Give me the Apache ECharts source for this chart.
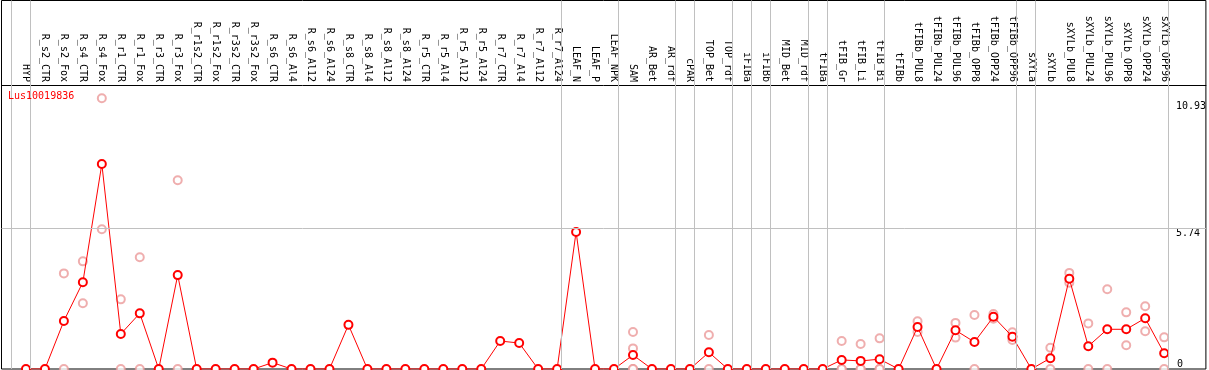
<!DOCTYPE html>
<html>
<head>
<meta charset="utf-8">
<script src="https://cdn.jsdelivr.net/npm/echarts@6/dist/echarts.min.js"></script>
<style>
  html, body { margin: 0; padding: 0; background: #fff; }
  #chart { width: 1209px; height: 370px; }
</style>
</head>
<body>
<div id="chart"></div>
<script>
const geneName = 'Lus10019836';

const categories = [
  'HYP', 'R_s2_CTR', 'R_s2_Fox', 'R_s4_CTR', 'R_s4_Fox', 'R_r1_CTR', 'R_r1_Fox', 'R_r3_CTR', 'R_r3_Fox',
  'R_r1s2_CTR', 'R_r1s2_Fox', 'R_r3s2_CTR', 'R_r3s2_Fox',
  'R_s6_CTR', 'R_s6_Al4', 'R_s6_Al12', 'R_s6_Al24', 'R_s8_CTR', 'R_s8_Al4', 'R_s8_Al12', 'R_s8_Al24',
  'R_r5_CTR', 'R_r5_Al4', 'R_r5_Al12', 'R_r5_Al24', 'R_r7_CTR', 'R_r7_Al4', 'R_r7_Al12', 'R_r7_Al24',
  'LEAF_N', 'LEAF_P', 'LEAF_NPK', 'SAM', 'AR_Bet', 'AR_rdf', 'cPAR', 'TOP_Bet', 'TOP_rdf',
  'iFIBa', 'iFIBb', 'MID_Bet', 'MID_rdf', 'tFIBa', 'tFIB_Gr', 'tFIB_Li', 'tFIB_Bi', 'tFIBb',
  'tFIBb_PUL8', 'tFIBb_PUL24', 'tFIBb_PUL96', 'tFIBb_OPP8', 'tFIBb_OPP24', 'tFIBb_OPP96',
  'sXYLa', 'sXYLb', 'sXYLb_PUL8', 'sXYLb_PUL24', 'sXYLb_PUL96', 'sXYLb_OPP8', 'sXYLb_OPP24', 'sXYLb_OPP96'
];

// mean expression per sample
const means = [
  0, 0, 1.96, 3.54, 8.36, 1.43, 2.27, 0, 3.83,
  0, 0, 0, 0,
  0.26, 0, 0, 0, 1.80, 0, 0, 0,
  0, 0, 0, 0, 1.14, 1.06, 0, 0,
  5.59, 0, 0, 0.57, 0, 0, 0, 0.68, 0,
  0, 0, 0, 0, 0, 0.37, 0.33, 0.40, 0,
  1.71, 0, 1.58, 1.10, 2.13, 1.32,
  0, 0.44, 3.68, 0.93, 1.62, 1.62, 2.07, 0.64
];

// single replicates per sample (index -> values)
const replicates = [
  [], [], [3.90, 0], [4.39, 2.68], [11.04, 5.70], [2.84, 0], [4.56, 0], [], [7.70, 0],
  [], [], [], [],
  [], [], [], [], [], [], [], [],
  [], [], [], [], [], [], [], [],
  [], [], [], [1.51, 0.84, 0, 0], [], [], [], [1.39, 0], [],
  [], [], [], [], [], [1.14, 0, 0], [1.02, 0, 0], [1.25, 0, 0], [],
  [1.95, 1.51], [], [1.88, 1.28], [2.20, 0], [2.24, 2.05], [1.50, 1.18],
  [], [0.87, 0], [3.92, 3.52], [1.86, 0], [3.25, 0], [2.31, 0.97], [2.56, 1.54], [1.29, 0]
];

// group separators (in sample index units)
const separators = [-0.78, 0.22, 28.22, 31.22, 34.22, 35.22, 37.22, 38.22, 39.22, 41.22, 42.22, 45.22, 52.22, 53.22, 60.22];
const yTickLabels = [5.74, 10.93];
const yZeroLabel = [0];

const font = 'DejaVu Sans Mono';
const chart = echarts.init(document.getElementById('chart'));

const repData = [];
replicates.forEach((vals, i) => vals.forEach(v => repData.push([i, v])));

chart.setOption({
  animation: false,
  title: {
    text: geneName,
    left: 8,
    top: 91,
    padding: 0,
    textStyle: { color: '#ff0000', fontFamily: font, fontSize: 10, fontWeight: 'normal' }
  },
  grid: {
    left: 1.5, right: 0.5, top: 0.5, bottom: 1,
    show: true, borderColor: '#000', borderWidth: 1
  },
  xAxis: {
    type: 'value',
    position: 'top',
    offset: -84.5,
    min: -1.289,
    max: 62.2,
    axisLine: { onZero: false, lineStyle: { color: '#000', width: 1 } },
    axisTick: { show: false },
    splitLine: { show: false },
    axisLabel: {
      customValues: categories.map((_, i) => i),
      formatter: v => categories[Math.round(v)] || '',
      rotate: 90,
      margin: 3,
      color: '#000',
      fontFamily: font,
      fontSize: 10
    }
  },
  yAxis: [
    {
      type: 'value',
      position: 'right',
      min: 0,
      max: 15.03,
      axisLine: { show: false, onZero: false },
      axisTick: { show: false },
      splitLine: { show: false },
      axisLabel: {
        customValues: yTickLabels,
        inside: true,
        align: 'left',
        verticalAlign: 'top',
        margin: 30,
        color: '#000',
        fontFamily: font,
        fontSize: 10
      }
    },
    {
      type: 'value',
      position: 'right',
      min: 0,
      max: 15.03,
      axisLine: { show: false, onZero: false },
      axisTick: { show: false },
      splitLine: { show: false },
      axisLabel: {
        customValues: yZeroLabel,
        inside: true,
        align: 'left',
        verticalAlign: 'bottom',
        margin: 29,
        color: '#000',
        fontFamily: font,
        fontSize: 10
      }
    }
  ],
  series: [
    {
      name: 'replicates',
      type: 'scatter',
      data: repData,
      symbol: 'emptyCircle',
      symbolSize: 8,
      itemStyle: { color: '#eb9a9a', borderWidth: 1.2 },
      z: 2,
      markLine: {
        silent: true,
        symbol: 'none',
        label: { show: false },
        lineStyle: { color: '#c0c0c0', type: 'solid', width: 1 },
        data: separators.map(v => ({ xAxis: v })).concat([{ yAxis: 5.74 }])
      }
    },
    {
      name: 'mean',
      type: 'line',
      data: means.map((v, i) => [i, v]),
      symbol: 'emptyCircle',
      symbolSize: 8,
      showAllSymbol: true,
      lineStyle: { color: '#ff0000', width: 1 },
      itemStyle: { color: '#ff0000', borderWidth: 1.3 },
      z: 3
    }
  ]
});
</script>
</body>
</html>
